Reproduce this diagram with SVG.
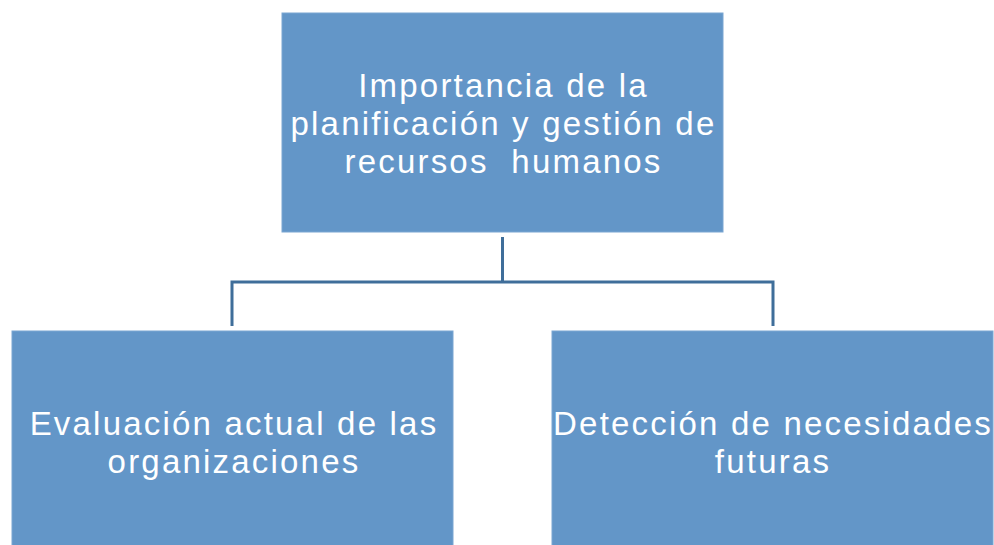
<svg xmlns="http://www.w3.org/2000/svg" width="994" height="545" viewBox="0 0 994 545">
<style>
.box{fill:#6396c8;stroke:#7aa6d2;stroke-width:1}
.t{font-family:"Liberation Sans","Arial",sans-serif;font-size:33px;letter-spacing:2.2px;fill:#ffffff;text-anchor:middle;white-space:pre}
.c{fill:none;stroke:#3f6e9a;stroke-width:3}
</style>
<rect width="994" height="545" fill="#ffffff"/>
<g id="connectors">
<path class="c" d="M502.5,237 V282 M232,282 H773 M232,280.5 V326 M773,280.5 V326"/>
</g>
<g id="top">
<rect class="box" x="282" y="13" width="441" height="219"/>
<text class="t" x="503.5" y="97">Importancia de la</text>
<text class="t" x="503.5" y="135">planificación y gestión de</text>
<text class="t" x="503.5" y="173" xml:space="preserve">recursos  humanos</text>
</g>
<g id="left">
<rect class="box" x="12" y="331" width="441" height="220"/>
<text class="t" x="234" y="435">Evaluación actual de las</text>
<text class="t" x="234" y="473">organizaciones</text>
</g>
<g id="right">
<rect class="box" x="552" y="331" width="441" height="220"/>
<text class="t" x="773" y="435">Detección de necesidades</text>
<text class="t" x="773" y="473">futuras</text>
</g>
</svg>
